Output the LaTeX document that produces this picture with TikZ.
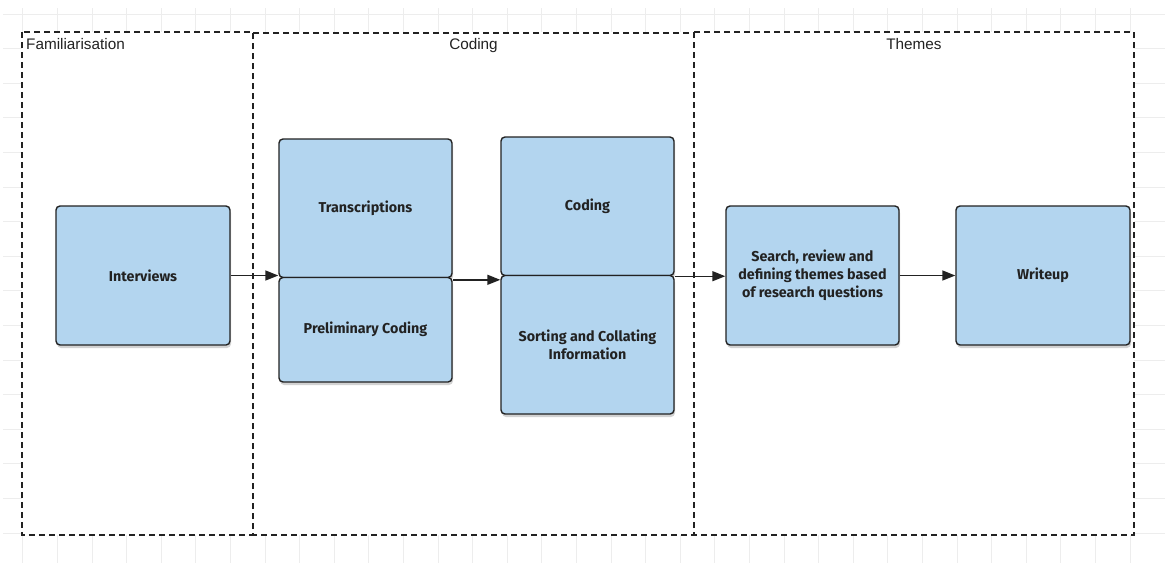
\documentclass[tikz,border=0pt]{standalone}
\usepackage{fontspec}
\setmainfont{Liberation Sans}
\newfontfamily\boxfont{Fira Sans}
\usetikzlibrary{arrows.meta,shadows}
\definecolor{boxblue}{HTML}{B3D5EF}
\definecolor{ink}{HTML}{222222}
\definecolor{gridc}{HTML}{EDEDED}
\tikzset{
  stagebox/.style={draw=ink, line width=1.6pt, dash pattern=on 6pt off 4pt},
  stagelabel/.style={font=\fontsize{15.3}{17}\selectfont, text=ink, inner sep=0pt, anchor=base},
  procbox/.style={draw=ink, line width=1.4pt, fill=boxblue, rounded corners=4pt,
    font=\boxfont\bfseries\fontsize{14.3}{18}\selectfont, text=ink, align=center,
    drop shadow={opacity=0.35, shadow xshift=1pt, shadow yshift=-3pt}},
  flow/.style={draw=ink, line width=1.4pt, -{Triangle[length=13pt,width=10pt]}},
  gridline/.style={draw=gridc, line width=0.8pt}
}
\begin{document}
\begin{tikzpicture}[x=1pt,y=-1pt]
\useasboundingbox (0,0) rectangle (1165,563);
% background grid
\foreach \k in {0,...,32} { \draw[gridline] (22.7+34.6*\k,8) -- (22.7+34.6*\k,563); }
\foreach \k in {0,...,15} { \draw[gridline] (3,14+34.6*\k) -- (1165,14+34.6*\k); }
\fill[white] (22,32) rectangle (1134,535);
% stages
\draw[stagebox] (22,32) rectangle (253,535);
\draw[stagebox] (253,33) rectangle (694,535);
\draw[stagebox] (694,32) rectangle (1134,535);
\node[stagelabel, anchor=base west] (famlabel) at (26,49.5) {Familiarisation};
\node[stagelabel] (codlabel) at (473.5,49.5) {Coding};
\node[stagelabel] (themlabel) at (914,49.5) {Themes};
% boxes
\node[procbox, minimum width=174pt, minimum height=139pt] (interviews) at (143,275.5) {Interviews};
\node[procbox, minimum width=173pt, minimum height=138.5pt] (trans) at (365.5,208.25) {Transcriptions};
\node[procbox, minimum width=173pt, minimum height=104.5pt] (prelim) at (365.5,329.75) {Preliminary Coding};
\node[procbox, minimum width=173pt, minimum height=138.5pt] (coding) at (587.5,206.25) {Coding};
\node[procbox, minimum width=173pt, minimum height=138.5pt] (sorting) at (587.5,344.75) {Sorting and Collating\\Information};
\node[procbox, minimum width=173pt, minimum height=139pt] (search) at (812.5,275.5) {Search, review and\\defining themes based\\of research questions};
\node[procbox, minimum width=174pt, minimum height=139pt] (writeup) at (1043,275.5) {Writeup};
% arrows
\draw[flow] (interviews.east) -- (interviews.east -| trans.west);
\draw[flow] ([yshift=-3pt]prelim.north east) -- ([yshift=-3pt]prelim.north east -| sorting.west);
\draw[flow] (coding.south east) -- (coding.south east -| search.west);
\draw[flow] (search.east) -- (writeup.west);
\end{tikzpicture}
\end{document}
